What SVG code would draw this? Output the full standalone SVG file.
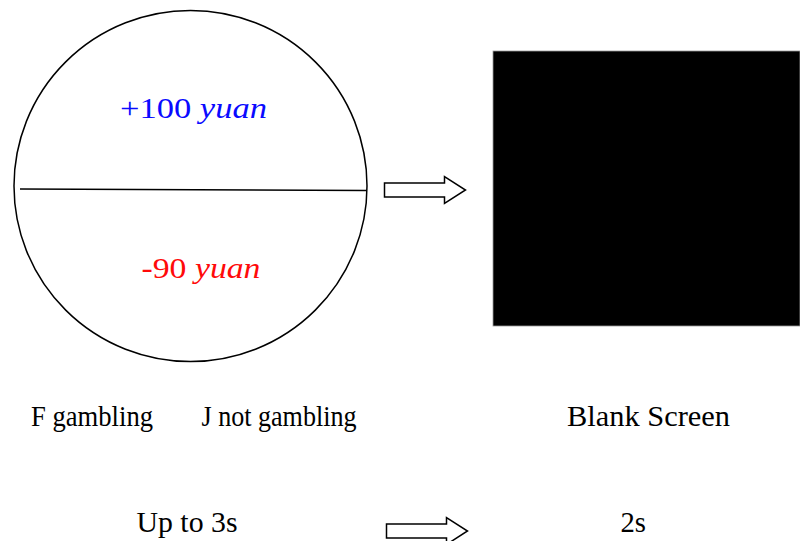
<svg xmlns="http://www.w3.org/2000/svg" width="800" height="541" viewBox="0 0 800 541">
  <style>
    .lbl { font-family: "Liberation Serif", "Times New Roman", serif; font-size: 30px; fill: #000; }
    .outline { fill: #fff; stroke: #000; stroke-width: 1.5; }
    .arrow { fill: #fff; stroke: #000; stroke-width: 1.5; stroke-linejoin: miter; }
  </style>
  <defs>
    <path id="blockArrow" d="M0,-7 H60 V-13.5 L81,0 L60,13.5 V7 H0 Z"/>
  </defs>
  <rect width="800" height="541" fill="#fff"/>

  <!-- choice screen: split circle with outcome values -->
  <g id="choice-screen">
    <ellipse class="outline" cx="190.5" cy="186" rx="176.5" ry="175.5"/>
    <line x1="20" y1="189" x2="367" y2="190.5" stroke="#000" stroke-width="1.5"/>
    <text class="lbl" x="120" y="118" style="fill:#0a0aff" textLength="147" lengthAdjust="spacingAndGlyphs">+100 <tspan font-style="italic">yuan</tspan></text>
    <text class="lbl" x="141.5" y="278" style="fill:#ff0a0a" textLength="119" lengthAdjust="spacingAndGlyphs">-90 <tspan font-style="italic">yuan</tspan></text>
  </g>

  <!-- blank screen -->
  <g id="blank-screen">
    <rect x="493" y="51" width="307" height="275" fill="#000" stroke="#999" stroke-width="0.8"/>
  </g>

  <!-- labels under each screen -->
  <g id="choice-keys">
    <text class="lbl" x="31" y="426" textLength="122" lengthAdjust="spacingAndGlyphs">F gambling</text>
    <text class="lbl" x="201.5" y="426" textLength="155" lengthAdjust="spacingAndGlyphs">J not gambling</text>
  </g>
  <g id="blank-label">
    <text class="lbl" x="567" y="426" textLength="163" lengthAdjust="spacingAndGlyphs">Blank Screen</text>
  </g>
  <g id="choice-duration">
    <text class="lbl" x="136.5" y="532" textLength="101" lengthAdjust="spacingAndGlyphs">Up to 3s</text>
  </g>
  <g id="blank-duration">
    <text class="lbl" x="620.5" y="532" textLength="25.5" lengthAdjust="spacingAndGlyphs">2s</text>
  </g>

  <!-- connectors -->
  <g id="connectors">
    <use href="#blockArrow" class="arrow" transform="translate(384.5,190)"/>
    <use href="#blockArrow" class="arrow" transform="translate(386.5,531)"/>
  </g>
</svg>
